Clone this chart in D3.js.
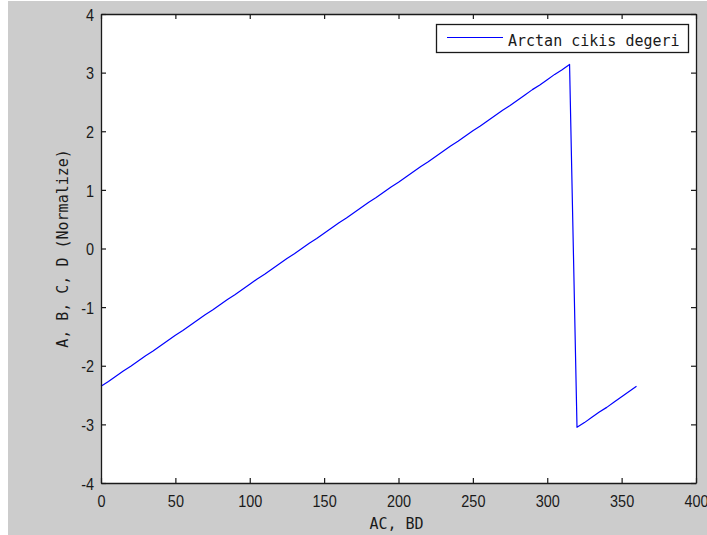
<!DOCTYPE html>
<html>
<head>
<meta charset="utf-8">
<script src="https://cdn.jsdelivr.net/npm/d3@7"></script>
<style>
  html, body { margin: 0; padding: 0; background: #ffffff; }
  svg { display: block; }
</style>
</head>
<body>
<svg id="chart" width="707" height="535"></svg>
<script>
// Angle samples (degrees) and the arctan output at each one
const angles = [
  0, 5, 10, 15, 20, 25, 30, 35, 40, 45, 50, 55, 60, 65, 70, 75, 80, 85, 90, 95,
  100, 105, 110, 115, 120, 125, 130, 135, 140, 145, 150, 155, 160, 165, 170, 175,
  180, 185, 190, 195, 200, 205, 210, 215, 220, 225, 230, 235, 240, 245, 250, 255,
  260, 265, 270, 275, 280, 285, 290, 295, 300, 305, 310, 315,
  320, 325, 330, 335, 340, 345, 350, 355, 360
];
const arctanOut = [
  -2.35, -2.27, -2.18, -2.09, -2.01, -1.92, -1.83, -1.75, -1.66, -1.57, -1.48, -1.40, -1.31, -1.22, -1.13, -1.05, -0.96, -0.87, -0.79, -0.70,
  -0.61, -0.52, -0.44, -0.35, -0.26, -0.17, -0.09, 0.00, 0.09, 0.17, 0.26, 0.35, 0.44, 0.52, 0.61, 0.70,
  0.79, 0.87, 0.96, 1.05, 1.13, 1.22, 1.31, 1.40, 1.48, 1.57, 1.66, 1.75, 1.83, 1.92, 2.01, 2.09,
  2.18, 2.27, 2.36, 2.44, 2.53, 2.62, 2.71, 2.79, 2.88, 2.97, 3.05, 3.14,
  -3.05, -2.97, -2.88, -2.79, -2.71, -2.62, -2.53, -2.44, -2.35
];
const xTicks = [0, 50, 100, 150, 200, 250, 300, 350, 400];
const yTicks = [-4, -3, -2, -1, 0, 1, 2, 3, 4];
const seriesName = "Arctan cikis degeri";
const xLabel = "AC, BD";
const yLabel = "A, B, C, D (Normalize)";

const svg = d3.select("#chart");
const plot = { left: 101, right: 696, top: 14, bottom: 483 };

const x = d3.scaleLinear().domain([0, 400]).range([plot.left, plot.right]);
const y = d3.scaleLinear().domain([-4, 4]).range([plot.bottom, plot.top]);

const tickFont = "'Liberation Sans', Arial, sans-serif";
const monoFont = "'DejaVu Sans Mono', 'Liberation Mono', monospace";
const fmt = d => String(d);

// figure background
svg.append("rect").attr("x", 8).attr("y", 1).attr("width", 699).attr("height", 534).attr("fill", "#cccccc");
// axes background
svg.append("rect")
  .attr("x", plot.left).attr("y", plot.top)
  .attr("width", plot.right - plot.left).attr("height", plot.bottom - plot.top)
  .attr("fill", "#ffffff");

// data line
const line = d3.line().x((d, i) => x(angles[i])).y(d => y(d));
svg.append("path")
  .datum(arctanOut)
  .attr("d", line)
  .attr("fill", "none")
  .attr("stroke", "#0000ff")
  .attr("stroke-width", 1.2)
  .attr("stroke-linejoin", "round");

function styleAxis(g) {
  g.select(".domain").attr("stroke", "#1a1a1a").attr("stroke-width", 1.3);
  g.selectAll(".tick line").attr("stroke", "#1a1a1a").attr("stroke-width", 1.2);
}

// bottom axis with labels
const gx = svg.append("g")
  .attr("transform", `translate(0,${plot.bottom})`)
  .call(d3.axisBottom(x).tickValues(xTicks).tickFormat(fmt).tickSizeInner(-5).tickSizeOuter(0));
styleAxis(gx);
gx.selectAll(".tick text")
  .attr("y", 24).attr("dy", 0)
  .attr("font-family", tickFont).attr("font-size", 17)
  .attr("fill", "#1a1a1a")
  .attr("transform", "scale(0.85,1)");

// left axis with labels
const gy = svg.append("g")
  .attr("transform", `translate(${plot.left},0)`)
  .call(d3.axisLeft(y).tickValues(yTicks).tickFormat(fmt).tickSizeInner(-5).tickSizeOuter(0));
styleAxis(gy);
gy.selectAll(".tick text")
  .attr("x", -8.2).attr("dy", "0.36em")
  .attr("font-family", tickFont).attr("font-size", 17)
  .attr("fill", "#1a1a1a")
  .attr("transform", "scale(0.85,1)");

// mirrored top and right axes (ticks only)
const gt = svg.append("g")
  .attr("transform", `translate(0,${plot.top})`)
  .call(d3.axisTop(x).tickValues(xTicks).tickFormat("").tickSizeInner(-5).tickSizeOuter(0));
styleAxis(gt);
const gr = svg.append("g")
  .attr("transform", `translate(${plot.right},0)`)
  .call(d3.axisRight(y).tickValues(yTicks).tickFormat("").tickSizeInner(-5).tickSizeOuter(0));
styleAxis(gr);

// axis titles
svg.append("text")
  .attr("x", (plot.left + plot.right) / 2 - 2).attr("y", 529)
  .attr("text-anchor", "middle")
  .attr("font-family", monoFont).attr("font-size", 15)
  .attr("fill", "#1a1a1a")
  .text(xLabel);
svg.append("text")
  .attr("transform", `translate(68,${(plot.top + plot.bottom) / 2}) rotate(-90)`)
  .attr("text-anchor", "middle")
  .attr("font-family", monoFont).attr("font-size", 15)
  .attr("fill", "#1a1a1a")
  .text(yLabel);

// legend
const legend = svg.append("g");
legend.append("rect")
  .attr("x", 436.5).attr("y", 24.5).attr("width", 252).attr("height", 28)
  .attr("fill", "#ffffff").attr("stroke", "#1a1a1a").attr("stroke-width", 1.3);
legend.append("line")
  .attr("x1", 447).attr("x2", 503).attr("y1", 37.5).attr("y2", 37.5)
  .attr("stroke", "#0000ff").attr("stroke-width", 1.2);
legend.append("text")
  .attr("x", 508).attr("y", 46)
  .attr("font-family", monoFont).attr("font-size", 15)
  .attr("fill", "#1a1a1a")
  .text(seriesName);
</script>
</body>
</html>
